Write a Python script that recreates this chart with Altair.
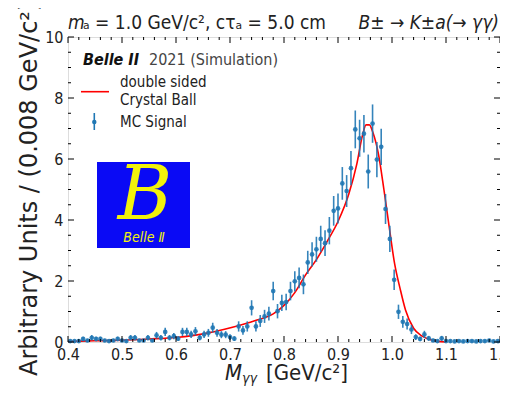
import altair as alt
import pandas as pd

# ---------------- data ----------------
bin_centers = [round(0.404 + 0.008 * i, 3) for i in range(100)]
counts = [
    0.03, 0.03, 0.03, 0.10, 0.05, 0.14, 0.10, 0.10, 0.05, 0.03,
    0.05, 0.10, 0.05, 0.03, 0.14, 0.14, 0.05, 0.05, 0.14, 0.05,
    0.22, 0.14, 0.33, 0.14, 0.19, 0.11, 0.33, 0.33, 0.25, 0.35,
    0.14, 0.25, 0.30, 0.47, 0.30, 0.24, 0.24, 0.16, 0.11, 0.51,
    0.38, 0.51, 1.12, 0.51, 0.69, 0.84, 0.93, 1.67, 1.01, 1.28,
    1.31, 1.67, 1.99, 2.10, 1.89, 2.61, 2.87, 3.04, 3.38, 3.24,
    3.65, 4.30, 4.38, 5.20, 4.95, 5.70, 6.97, 6.68, 6.83, 5.59,
    7.16, 5.98, 6.40, 4.36, 3.38, 2.04, 0.99, 0.66, 0.59, 0.41,
    0.16, 0.10, 0.25, 0.12, 0.05, 0.03, 0.12, 0.03, 0.03, 0.02,
    0.03, 0.02, 0.03, 0.03, 0.02, 0.03, 0.03, 0.05, 0.02, 0.03,
]
errors = [
    0.041, 0.041, 0.041, 0.074, 0.053, 0.088, 0.074, 0.074, 0.053, 0.041,
    0.053, 0.074, 0.053, 0.041, 0.088, 0.088, 0.053, 0.053, 0.088, 0.053,
    0.110, 0.088, 0.135, 0.088, 0.102, 0.078, 0.135, 0.135, 0.118, 0.139,
    0.088, 0.118, 0.129, 0.161, 0.129, 0.115, 0.115, 0.094, 0.078, 0.168,
    0.145, 0.168, 0.249, 0.168, 0.195, 0.215, 0.227, 0.304, 0.236, 0.266,
    0.269, 0.304, 0.332, 0.341, 0.323, 0.380, 0.398, 0.410, 0.432, 0.423,
    0.449, 0.487, 0.492, 0.536, 0.523, 0.561, 0.620, 0.607, 0.614, 0.556,
    0.629, 0.575, 0.595, 0.491, 0.432, 0.336, 0.234, 0.191, 0.181, 0.150,
    0.094, 0.074, 0.118, 0.081, 0.053, 0.041, 0.081, 0.041, 0.041, 0.033,
    0.041, 0.033, 0.041, 0.041, 0.033, 0.041, 0.041, 0.053, 0.033, 0.041,
]
curve_x = [0.40, 0.45, 0.50, 0.55, 0.60, 0.63, 0.66, 0.69, 0.72, 0.75,
           0.78, 0.80, 0.82, 0.84, 0.86, 0.88, 0.90, 0.92, 0.935, 0.945,
           0.952, 0.958, 0.965, 0.975, 0.985, 0.995, 1.005, 1.015, 1.025,
           1.04, 1.055, 1.07, 1.085, 1.10]
curve_y = [0.02, 0.04, 0.06, 0.10, 0.15, 0.21, 0.30, 0.42, 0.56, 0.72,
           0.92, 1.20, 1.62, 2.20, 2.70, 3.30, 3.95, 4.85, 5.85, 6.75,
           7.12, 7.12, 6.85, 6.15, 5.00, 3.75, 2.55, 1.75, 1.05,
           0.45, 0.20, 0.08, 0.02, 0.00]
x_major = [0.4, 0.5, 0.6, 0.7, 0.8, 0.9, 1.0, 1.1, 1.2]
x_minor = [round(0.4 + 0.02 * i, 2) for i in range(41) if i % 5 != 0]
y_major = [0, 2, 4, 6, 8, 10]
y_minor = [0.5 * i for i in range(21) if i % 4 != 0]

W, H = 432, 305
FC = "DejaVu Sans Condensed, DejaVu Sans"
BLUE = "#1f77b4"

pts = pd.DataFrame({"x": bin_centers, "y": counts,
                    "lo": [c - e for c, e in zip(counts, errors)],
                    "hi": [c + e for c, e in zip(counts, errors)]})
crv = pd.DataFrame({"x": curve_x, "y": curve_y})

xs = alt.Scale(domain=[0.4, 1.2], nice=False, zero=False)
ys = alt.Scale(domain=[0, 10], nice=False, zero=True)

x_axis = alt.Axis(values=x_major, format=".1f", ticks=False, domain=False, grid=False,
                  labelFont=FC, labelFontSize=16, labelPadding=4, labelColor="#222",
                  labelFlush=False, labelOverlap=False, title=None)
y_axis = alt.Axis(values=y_major, format="d", ticks=False, domain=False, grid=False,
                  labelFont=FC, labelFontSize=16, labelPadding=5, labelColor="#222",
                  labelOverlap=False, title=None)

curve = alt.Chart(crv).mark_line(color="#ff0000", strokeWidth=1.6, interpolate="monotone").encode(
    x=alt.X("x:Q", scale=xs, axis=x_axis), y=alt.Y("y:Q", scale=ys, axis=y_axis))
ebars = alt.Chart(pts).mark_rule(color=BLUE, strokeWidth=1.6, opacity=0.9).encode(
    x=alt.X("x:Q", scale=xs), y=alt.Y("lo:Q", scale=ys), y2="hi:Q")
dots = alt.Chart(pts).mark_point(filled=True, size=22, color=BLUE, opacity=0.9).encode(
    x=alt.X("x:Q", scale=xs), y=alt.Y("y:Q", scale=ys))

def xticks(vals, length, top):
    d = pd.DataFrame({"x": vals})
    if top:
        return alt.Chart(d).mark_rule(color="black", strokeWidth=1).encode(
            x=alt.X("x:Q", scale=xs), y=alt.value(0), y2=alt.value(length))
    return alt.Chart(d).mark_rule(color="black", strokeWidth=1).encode(
        x=alt.X("x:Q", scale=xs), y=alt.value(H), y2=alt.value(H - length))

def yticks(vals, length, right):
    d = pd.DataFrame({"y": vals})
    if right:
        return alt.Chart(d).mark_rule(color="black", strokeWidth=1).encode(
            y=alt.Y("y:Q", scale=ys), x=alt.value(W), x2=alt.value(W - length))
    return alt.Chart(d).mark_rule(color="black", strokeWidth=1).encode(
        y=alt.Y("y:Q", scale=ys), x=alt.value(0), x2=alt.value(length))

ticks = [xticks(x_major, 6, False), xticks(x_minor, 3, False),
         xticks(x_major, 6, True), xticks(x_minor, 3, True),
         yticks(y_major, 6, False), yticks(y_minor, 3, False),
         yticks(y_major, 6, True), yticks(y_minor, 3, True)]

one = pd.DataFrame({"a": [0]})

def txt(s, x, y, size, font=FC, style="normal", weight="normal", align="left",
        color="#222", angle=0, baseline="alphabetic"):
    return alt.Chart(one).mark_text(text=s, font=font, fontSize=size, fontStyle=style,
                                    fontWeight=weight, align=align, baseline=baseline,
                                    color=color, angle=angle).encode(
        x=alt.value(x), y=alt.value(y))

texts = [
    # header
    txt("m", 0, -8, 19, style="italic"),
    txt("\u2090 = 1.0 GeV/c\u00b2, c\u03c4\u2090 = 5.0 cm", 15, -8, 19),
    txt("B\u00b1 \u2192 K\u00b1a(\u2192 \u03b3\u03b3)", W - 1, -8, 19, style="italic", align="right"),
    # axis titles
    txt("M", 157, H + 38, 22, style="italic"),
    txt("\u03b3\u03b3", 174, H + 41, 14, style="italic"),
    txt("[GeV/c\u00b2]", 198, H + 38, 22),
    txt("Arbitrary Units / (0.008 GeV/c\u00b2)", -31, 339, 24, font="DejaVu Sans", angle=270),
    # legend
    txt("Belle II", 15, 28, 16, style="italic", weight="bold", color="#111"),
    txt("2021 (Simulation)", 81, 28, 16, color="#444"),
    txt("double sided", 52, 50, 15),
    txt("Crystal Ball", 52, 68, 15),
    txt("MC Signal", 52, 90, 15),
]

leg_line = alt.Chart(one).mark_rule(color="#ff0000", strokeWidth=1.6).encode(
    x=alt.value(13), x2=alt.value(41), y=alt.value(54.7))
leg_bar = alt.Chart(one).mark_rule(color=BLUE, strokeWidth=1.6).encode(
    x=alt.value(26.3), y=alt.value(76), y2=alt.value(93))
leg_dot = alt.Chart(one).mark_point(filled=True, size=20, color=BLUE, opacity=1).encode(
    x=alt.value(26.3), y=alt.value(85))

logo_rect = alt.Chart(one).mark_rect(color="#0a0af5").encode(
    x=alt.value(29), x2=alt.value(122), y=alt.value(125), y2=alt.value(211))
logo_b = txt("B", 77, 160, 74, font="DejaVu Serif", style="italic", color="#f2f20c",
             align="center", baseline="middle")
logo_t = txt("Belle \u2161", 76, 205, 14, style="italic", color="#f2f20c", align="center")

chart = alt.layer(curve, ebars, dots, *ticks, *texts, leg_line, leg_bar, leg_dot,
                  logo_rect, logo_b, logo_t).properties(
    width=W, height=H,
    autosize=alt.AutoSizeParams(type="none"),
    padding={"left": 60, "top": 29, "right": 0, "bottom": 44},
).configure_view(stroke="black", strokeWidth=1.3).configure(background="white")

chart.save("out.html", embed_options={"renderer": "svg", "actions": False})
